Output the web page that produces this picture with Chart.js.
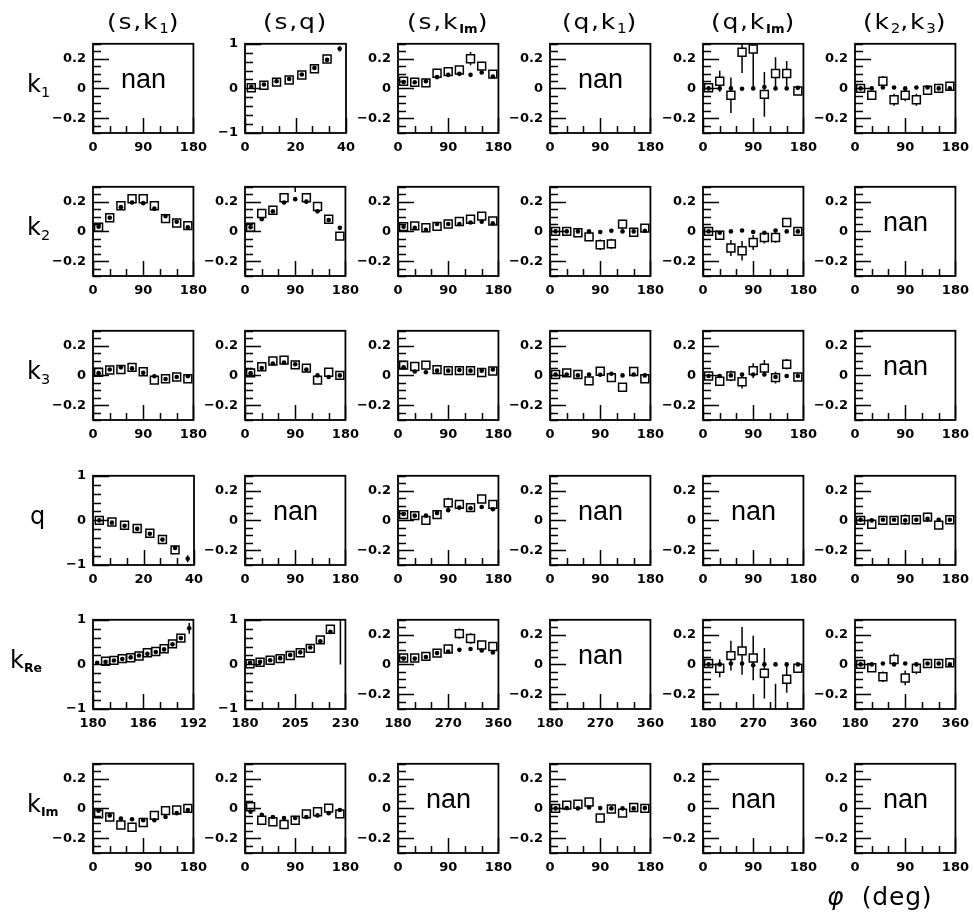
<!DOCTYPE html>
<html>
<head>
<meta charset="utf-8">
<script src="https://cdn.jsdelivr.net/npm/chart.js@4.4.1/dist/chart.umd.min.js"></script>
<style>
  html, body { margin: 0; padding: 0; background: #fff; }
  body { position: relative; width: 974px; height: 914px; overflow: hidden; font-family: 'DejaVu Sans', sans-serif; color: #000; }
  canvas { position: absolute; }
  .txt { position: absolute; white-space: nowrap; line-height: 1; }
  .title { font-size: 22px; letter-spacing: 1.5px; transform: translateX(-50%) scaleX(1.14); transform-origin: 0 0; }
  .row { font-size: 24px; }
  .nan { font-family: 'Liberation Sans', sans-serif; font-size: 27px; transform: translateX(-50%); }
  .sb { font-size: 0.6em; vertical-align: -0.32em; line-height: 0; letter-spacing: 0; }
  .sb.bd { font-weight: bold; font-size: 0.52em; }
  .axis { font-size: 25px; letter-spacing: 0.8px; }
</style>
</head>
<body>
<script>
// bin centres (x values)
const phi = [10, 30, 50, 70, 90, 110, 130, 150, 170];
const phiRe = [190, 210, 230, 250, 270, 290, 310, 330, 350];
const sBin = [2.5, 7.5, 12.5, 17.5, 22.5, 27.5, 32.5, 37.5];
const reBinA = [180.5, 181.5, 182.5, 183.5, 184.5, 185.5, 186.5, 187.5, 188.5, 189.5, 190.5, 191.5];
const reBinB = [182.5, 187.5, 192.5, 197.5, 202.5, 207.5, 212.5, 217.5, 222.5, 227.5];

// tick labels
const ticksPhi = [0, 90, 180];
const ticksS = [0, 20, 40];
const ticksReA = [180, 186, 192];
const ticksReB = [180, 205, 230];
const ticksRe = [180, 270, 360];
const ticksY3 = [-0.2, 0, 0.2];
const ticksY1 = [-1, 0, 1];

// column / row names
const colNames = ['(s,k<span class="sb">1</span>)', '(s,q)', '(s,k<span class="sb bd">Im</span>)',
                  '(q,k<span class="sb">1</span>)', '(q,k<span class="sb bd">Im</span>)', '(k<span class="sb">2</span>,k<span class="sb">3</span>)'];
const rowNames = ['k<span class="sb">1</span>', 'k<span class="sb">2</span>', 'k<span class="sb">3</span>', 'q',
                  'k<span class="sb bd">Re</span>', 'k<span class="sb bd">Im</span>'];

// ---- row k1
const k1_sq_meas = [0.015, 0.07, 0.14, 0.19, 0.30, 0.44, 0.66, null];
const k1_sq_fit = [0.036, 0.086, 0.16, 0.21, 0.31, 0.46, 0.64, 0.89];
const k1_sq_fitErr = [0, 0, 0, 0, 0, 0, 0, 0.06];
const k1_skIm_meas = [0.048, 0.041, 0.037, 0.102, 0.113, 0.124, 0.20, 0.15, 0.096];
const k1_skIm_err = [0, 0, 0, 0.01, 0.015, 0.02, 0.045, 0.03, 0.015];
const k1_skIm_fit = [0.043, 0.041, 0.048, 0.076, 0.091, 0.098, 0.091, 0.107, 0.08];
const k1_qkIm_meas = [0.004, 0.048, -0.046, 0.243, 0.265, -0.04, 0.10, 0.10, -0.017];
const k1_qkIm_err = [0.01, 0.07, 0.12, 0.14, 0.25, 0.15, 0.11, 0.085, 0.015];
const k1_qkIm_fit = [0, 0, 0, -0.002, 0, 0.009, 0, 0, 0.004];
const k1_k2k3_meas = [0, -0.046, 0.048, -0.076, -0.046, -0.076, -0.013, 0, 0.015];
const k1_k2k3_err = [0.01, 0.02, 0.035, 0.04, 0.04, 0.04, 0.02, 0.01, 0.01];
const k1_k2k3_fit = [0, 0, 0.006, 0.006, 0, 0.006, 0.006, 0, 0];

// ---- row k2
const k2_sk1_meas = [0.028, 0.092, 0.172, 0.22, 0.22, 0.172, 0.086, 0.056, 0.039];
const k2_sk1_fit = [0.032, 0.092, 0.163, 0.194, 0.19, 0.153, 0.103, 0.065, 0.028];
const k2_sq_meas = [0.028, 0.12, 0.142, 0.226, 0.34, 0.226, 0.168, 0.082, -0.032];
const k2_sq_err = [0, 0, 0, 0, 0.075, 0, 0, 0, 0.02];
const k2_sq_fit = [0.028, 0.082, 0.135, 0.194, 0.217, 0.20, 0.135, 0.077, 0.024];
const k2_skIm_meas = [0.032, 0.037, 0.024, 0.034, 0.05, 0.067, 0.082, 0.103, 0.07];
const k2_skIm_err = [0, 0, 0, 0.01, 0.015, 0.02, 0.02, 0.02, 0.015];
const k2_skIm_fit = [0.032, 0.024, 0.011, 0.05, 0.05, 0.05, 0.06, 0.065, 0.054];
const k2_qk1_meas = [0, 0, -0.009, -0.037, -0.09, -0.084, 0.049, -0.006, 0.022];
const k2_qk1_err = [0.01, 0.01, 0.01, 0.02, 0.035, 0.035, 0.03, 0.01, 0.01];
const k2_qk1_fit = [0, 0, 0, 0, -0.004, 0.004, 0, 0, 0.004];
const k2_qkIm_meas = [0, -0.026, -0.112, -0.13, -0.075, -0.041, -0.041, 0.06, 0];
const k2_qkIm_err = [0.01, 0.02, 0.054, 0.065, 0.05, 0.04, 0.035, 0.03, 0.01];
const k2_qkIm_fit = [0, -0.009, 0, 0.006, -0.004, -0.009, 0.006, 0, 0];

// ---- row k3
const k3_sk1_meas = [0.021, 0.036, 0.04, 0.054, 0.024, -0.032, -0.022, -0.011, -0.022];
const k3_sk1_fit = [0.015, 0.04, 0.054, 0.047, 0.017, -0.006, -0.024, -0.011, -0.006];
const k3_sq_meas = [0.017, 0.058, 0.097, 0.103, 0.071, 0.049, -0.032, 0.021, 0];
const k3_sq_fit = [0.015, 0.049, 0.08, 0.086, 0.075, 0.039, 0, -0.011, 0];
const k3_skIm_meas = [0.069, 0.06, 0.069, 0.039, 0.032, 0.032, 0.032, 0.019, 0.03];
const k3_skIm_err = [0.01, 0.01, 0.01, 0.01, 0.015, 0.015, 0.015, 0.01, 0.01];
const k3_skIm_fit = [0.054, 0.026, 0.021, 0.032, 0.032, 0.036, 0.032, 0.032, 0.04];
const k3_qk1_meas = [0.006, 0.017, 0.006, -0.037, 0.028, -0.015, -0.08, 0.026, -0.022];
const k3_qk1_err = [0.01, 0.01, 0.01, 0.02, 0.025, 0.02, 0.025, 0.01, 0.01];
const k3_qk1_fit = [0.006, 0.006, 0, 0.006, 0.004, 0.011, 0, 0.006, 0];
const k3_qkIm_meas = [-0.004, -0.039, -0.004, -0.043, 0.032, 0.049, -0.015, 0.075, -0.011];
const k3_qkIm_err = [0.01, 0.02, 0.035, 0.045, 0.05, 0.055, 0.04, 0.035, 0.01];
const k3_qkIm_fit = [-0.004, -0.004, 0, 0.006, 0.006, 0.006, -0.011, -0.004, -0.004];

// ---- row q
const q_sk1_meas = [0, -0.036, -0.107, -0.18, -0.29, -0.43, -0.66, null];
const q_sk1_fit = [0, -0.05, -0.12, -0.19, -0.30, -0.43, -0.62, -0.86];
const q_sk1_fitErr = [0, 0, 0, 0, 0, 0, 0, 0.08];
const q_skIm_meas = [0.039, 0.032, 0, 0.039, 0.118, 0.108, 0.086, 0.144, 0.108];
const q_skIm_err = [0, 0, 0, 0.01, 0.035, 0.03, 0.015, 0.02, 0.015];
const q_skIm_fit = [0.043, 0.032, 0.032, 0.049, 0.069, 0.086, 0.082, 0.09, 0.075];
const q_k2k3_meas = [0, -0.026, 0, 0, 0.004, 0.004, 0.022, -0.032, 0.004];
const q_k2k3_err = [0.01, 0.01, 0.01, 0.025, 0.035, 0.03, 0.03, 0.01, 0.01];
const q_k2k3_fit = [0.004, 0, 0.004, 0.004, 0, 0.004, 0.011, 0.004, 0.004];

// ---- row kRe
const kRe_sk1_meas = [null, 0.07, 0.09, 0.13, 0.15, 0.19, 0.26, 0.29, 0.35, 0.46, 0.59, null];
const kRe_sk1_fit = [0.036, 0.057, 0.086, 0.12, 0.157, 0.20, 0.236, 0.279, 0.336, 0.45, 0.59, 0.81];
const kRe_sk1_fitErr = [0, 0, 0, 0, 0, 0, 0, 0, 0, 0, 0, 0.12];
const kRe_sq_meas = [0.014, 0.05, 0.093, 0.13, 0.20, 0.26, 0.36, 0.55, 0.79, 1.3];
const kRe_sq_err = [0, 0, 0, 0, 0, 0, 0, 0, 0, 1.3];
const kRe_sq_fit = [0.036, 0.057, 0.093, 0.14, 0.21, 0.27, 0.38, 0.52, 0.73, null];
const kRe_skIm_meas = [0.043, 0.043, 0.054, 0.076, 0.104, 0.207, 0.174, 0.13, 0.12];
const kRe_skIm_err = [0.01, 0.01, 0.01, 0.015, 0.02, 0.035, 0.035, 0.025, 0.015];
const kRe_skIm_fit = [0.039, 0.039, 0.05, 0.076, 0.087, 0.098, 0.104, 0.093, 0.08];
const kRe_qkIm_meas = [0.006, -0.026, 0.059, 0.091, 0.043, -0.059, -0.42, -0.10, -0.026];
const kRe_qkIm_err = [0.01, 0.06, 0.10, 0.16, 0.15, 0.17, 0.29, 0.09, 0.01];
const kRe_qkIm_fit = [0, 0, 0.006, 0.006, -0.006, 0, 0, 0, 0];
const kRe_k2k3_meas = [0, -0.022, -0.083, 0.033, -0.091, -0.026, 0.006, 0.006, 0.011];
const kRe_k2k3_err = [0.01, 0.01, 0.035, 0.04, 0.05, 0.04, 0.025, 0.01, 0.01];
const kRe_k2k3_fit = [0, 0, 0.006, 0, 0.006, 0, 0.006, 0.006, 0];

// ---- row kIm
const kIm_sk1_meas = [-0.037, -0.058, -0.112, -0.127, -0.095, -0.047, -0.015, -0.011, 0];
const kIm_sk1_fit = [-0.015, -0.047, -0.069, -0.073, -0.08, -0.08, -0.058, -0.032, -0.011];
const kIm_sq_meas = [0.011, -0.08, -0.09, -0.108, -0.08, -0.037, -0.022, 0.002, -0.037];
const kIm_sq_fit = [-0.022, -0.043, -0.058, -0.065, -0.065, -0.058, -0.047, -0.032, -0.011];
const kIm_qk1_meas = [0, 0.022, 0.028, 0.043, -0.065, -0.004, -0.032, 0.006, 0];
const kIm_qk1_err = [0.01, 0.01, 0.01, 0.02, 0.025, 0.02, 0.02, 0.01, 0.01];
const kIm_qk1_fit = [0, 0.002, 0, 0.006, 0.002, 0, 0, 0, 0.002];

// axis setups
const X_PHI = { min: 0, max: 180, labels: ticksPhi, div: 6 };
const X_S = { min: 0, max: 40, labels: ticksS, div: 6 };
const X_REA = { min: 180, max: 192, labels: ticksReA, div: 6 };
const X_REB = { min: 180, max: 230, labels: ticksReB, div: 6 };
const X_RE = { min: 180, max: 360, labels: ticksRe, div: 6 };
const Y3 = { min: -0.3, max: 0.3, labels: ticksY3, div: 12 };
const Y1 = { min: -1, max: 1, labels: ticksY1, div: 10 };

const nan = (xa) => ({ xa: xa, ya: Y3, nan: true });
const pan = (xa, ya, x, meas, fit, err, fitErr) => ({ xa, ya, x, meas, fit, err, fitErr });

const panels = [
  nan(X_PHI),
  pan(X_S, Y1, sBin, k1_sq_meas, k1_sq_fit, null, k1_sq_fitErr),
  pan(X_PHI, Y3, phi, k1_skIm_meas, k1_skIm_fit, k1_skIm_err),
  nan(X_PHI),
  pan(X_PHI, Y3, phi, k1_qkIm_meas, k1_qkIm_fit, k1_qkIm_err),
  pan(X_PHI, Y3, phi, k1_k2k3_meas, k1_k2k3_fit, k1_k2k3_err),

  pan(X_PHI, Y3, phi, k2_sk1_meas, k2_sk1_fit),
  pan(X_PHI, Y3, phi, k2_sq_meas, k2_sq_fit, k2_sq_err),
  pan(X_PHI, Y3, phi, k2_skIm_meas, k2_skIm_fit, k2_skIm_err),
  pan(X_PHI, Y3, phi, k2_qk1_meas, k2_qk1_fit, k2_qk1_err),
  pan(X_PHI, Y3, phi, k2_qkIm_meas, k2_qkIm_fit, k2_qkIm_err),
  nan(X_PHI),

  pan(X_PHI, Y3, phi, k3_sk1_meas, k3_sk1_fit),
  pan(X_PHI, Y3, phi, k3_sq_meas, k3_sq_fit),
  pan(X_PHI, Y3, phi, k3_skIm_meas, k3_skIm_fit, k3_skIm_err),
  pan(X_PHI, Y3, phi, k3_qk1_meas, k3_qk1_fit, k3_qk1_err),
  pan(X_PHI, Y3, phi, k3_qkIm_meas, k3_qkIm_fit, k3_qkIm_err),
  nan(X_PHI),

  pan(X_S, Y1, sBin, q_sk1_meas, q_sk1_fit, null, q_sk1_fitErr),
  nan(X_PHI),
  pan(X_PHI, Y3, phi, q_skIm_meas, q_skIm_fit, q_skIm_err),
  nan(X_PHI),
  nan(X_PHI),
  pan(X_PHI, Y3, phi, q_k2k3_meas, q_k2k3_fit, q_k2k3_err),

  pan(X_REA, Y1, reBinA, kRe_sk1_meas, kRe_sk1_fit, null, kRe_sk1_fitErr),
  pan(X_REB, Y1, reBinB, kRe_sq_meas, kRe_sq_fit, kRe_sq_err),
  pan(X_RE, Y3, phiRe, kRe_skIm_meas, kRe_skIm_fit, kRe_skIm_err),
  nan(X_RE),
  pan(X_RE, Y3, phiRe, kRe_qkIm_meas, kRe_qkIm_fit, kRe_qkIm_err),
  pan(X_RE, Y3, phiRe, kRe_k2k3_meas, kRe_k2k3_fit, kRe_k2k3_err),

  pan(X_PHI, Y3, phi, kIm_sk1_meas, kIm_sk1_fit),
  pan(X_PHI, Y3, phi, kIm_sq_meas, kIm_sq_fit),
  nan(X_PHI),
  pan(X_PHI, Y3, phi, kIm_qk1_meas, kIm_qk1_fit, kIm_qk1_err),
  nan(X_PHI),
  nan(X_PHI)
];

// page geometry
const colLeft = [93, 245, 398, 550, 703, 855];
const rowTop = [41, 184, 328, 473, 617, 761];
const PW = 101, PH = 92;
const PADL = 56, PADT = 12, PADR = 20, PADB = 30;

Chart.defaults.font.family = 'DejaVu Sans';
Chart.defaults.color = '#000';

const fmt = v => String(Math.round(v * 100) / 100).replace('-', '\u2212');
const isMajor = (ax, v) => ax.labels.some(l => Math.abs(l - v) < 1e-9);

// frame, inward ticks and error bars, ROOT style
const rootFrame = {
  id: 'rootFrame',
  beforeDatasetsDraw(chart, args, o) {
    const { ctx, chartArea: a, scales: { x, y } } = chart;
    ctx.save();
    ctx.beginPath();
    ctx.rect(a.left, a.top, a.right - a.left, a.bottom - a.top);
    ctx.clip();
    ctx.strokeStyle = '#000';
    ctx.lineWidth = 1.5;
    chart.data.datasets.forEach(ds => {
      if (!ds.err) return;
      ds.data.forEach((p, i) => {
        const e = ds.err[i];
        if (!e || p.y === null) return;
        const px = x.getPixelForValue(p.x);
        ctx.beginPath();
        ctx.moveTo(px, y.getPixelForValue(p.y - e));
        ctx.lineTo(px, y.getPixelForValue(p.y + e));
        ctx.stroke();
      });
    });
    ctx.restore();
  },
  afterDraw(chart, args, o) {
    const { ctx, chartArea: a, scales: { x, y } } = chart;
    ctx.save();
    ctx.strokeStyle = '#000';
    ctx.lineWidth = 1.5;
    ctx.beginPath();
    for (let i = 0; i <= o.xa.div; i++) {
      const v = o.xa.min + (o.xa.max - o.xa.min) * i / o.xa.div;
      const px = Math.round(x.getPixelForValue(v)) + 0.5;
      const len = isMajor(o.xa, v) ? 15 : 7;
      ctx.moveTo(px, a.bottom);
      ctx.lineTo(px, a.bottom - len);
    }
    for (let i = 0; i <= o.ya.div; i++) {
      const v = o.ya.min + (o.ya.max - o.ya.min) * i / o.ya.div;
      const py = Math.round(y.getPixelForValue(v)) + 0.5;
      const len = isMajor(o.ya, v) ? 16 : 8;
      ctx.moveTo(a.left, py);
      ctx.lineTo(a.left + len, py);
    }
    ctx.stroke();
    ctx.lineWidth = 1.8;
    ctx.strokeRect(a.left, a.top, a.right - a.left, a.bottom - a.top);
    ctx.restore();
  }
};

const pts = (xs, ys) => xs.map((v, i) => ({ x: v, y: ys[i] === undefined ? null : ys[i] }));

function axis(ax, fit) {
  return {
    type: 'linear',
    min: ax.min,
    max: ax.max,
    grid: { display: false, drawTicks: false },
    border: { display: false },
    afterBuildTicks: s => { s.ticks = ax.labels.map(v => ({ value: v })); },
    afterFit: fit,
    ticks: {
      padding: 7,
      autoSkip: false,
      maxRotation: 0,
      font: { family: 'DejaVu Sans', size: 13, weight: 'bold' },
      color: '#000',
      callback: v => fmt(v)
    }
  };
}

function addText(cls, html, left, top) {
  const d = document.createElement('div');
  d.className = 'txt ' + cls;
  d.innerHTML = html;
  d.style.left = left + 'px';
  d.style.top = top + 'px';
  document.body.appendChild(d);
  return d;
}

panels.forEach((p, idx) => {
  const r = Math.floor(idx / 6), c = idx % 6;
  const L = colLeft[c], T = rowTop[r];
  const W = PADL + PW + PADR, H = PADT + PH + PADB;
  const cv = document.createElement('canvas');
  cv.width = W;
  cv.height = H;
  cv.style.left = (L - PADL) + 'px';
  cv.style.top = (T - PADT) + 'px';
  cv.style.width = W + 'px';
  cv.style.height = H + 'px';
  document.body.appendChild(cv);

  const datasets = p.nan ? [] : [
    {
      label: 'fit',
      data: pts(p.x, p.fit),
      err: p.fitErr || null,
      pointStyle: 'circle',
      pointRadius: 2.3,
      backgroundColor: '#000',
      borderColor: '#000',
      borderWidth: 0,
      clip: 0
    },
    {
      label: 'measured',
      data: pts(p.x, p.meas),
      err: p.err || null,
      pointStyle: 'rect',
      pointRadius: 5.6,
      backgroundColor: '#fff',
      borderColor: '#000',
      borderWidth: 1.5,
      clip: 0
    }
  ];

  new Chart(cv, {
    type: 'scatter',
    data: { datasets: datasets },
    options: {
      responsive: false,
      animation: false,
      events: [],
      layout: { padding: { left: 0, top: PADT, right: PADR, bottom: 0 } },
      plugins: {
        legend: { display: false },
        tooltip: { enabled: false },
        rootFrame: { xa: p.xa, ya: p.ya }
      },
      scales: {
        x: axis(p.xa, s => { s.height = PADB; }),
        y: axis(p.ya, s => { s.width = PADL; })
      }
    },
    plugins: [rootFrame]
  });

  if (p.nan) addText('nan', 'nan', L + PW / 2, T + 48 - 23);
});

// column titles, row labels, axis title
colNames.forEach((t, c) => {
  const d = addText('title', t, colLeft[c] + PW / 2, 30 - 18.6);
  const w = d.getBoundingClientRect().width;
  d.style.transform = 'scaleX(1.14)';
  d.style.left = (colLeft[c] + PW / 2 - w / 2) + 'px';
});
const rowLeft = [27, 27, 27, 30, 10, 27];
rowNames.forEach((t, r) => addText('row', t, rowLeft[r], rowTop[r] + PH / 2 + 5 - 20.3));
addText('axis', '<i>\u03c6</i>&nbsp; (deg)', 827, 905 - 21);
</script>
</body>
</html>
